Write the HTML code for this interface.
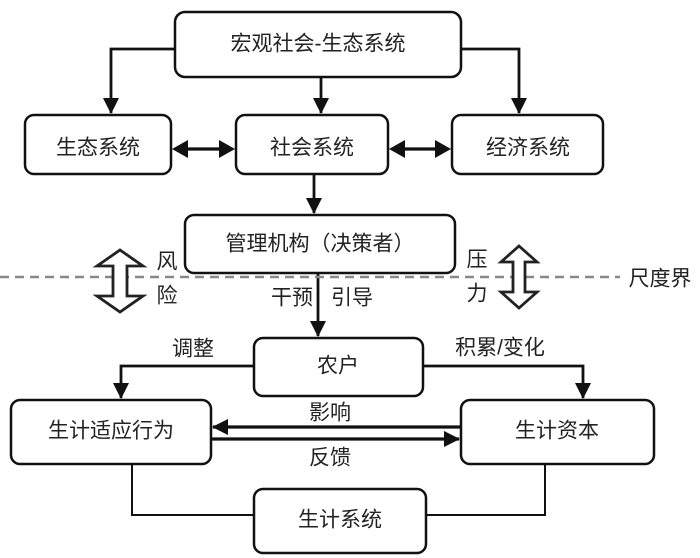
<!DOCTYPE html>
<html><head><meta charset="utf-8"><style>
html,body{margin:0;padding:0;background:#fff;width:700px;height:558px;overflow:hidden}
text{font-family:"Liberation Sans","Noto Sans CJK SC",sans-serif;font-size:21px;fill:#222;text-anchor:middle;dominant-baseline:central}
</style></head><body>
<svg width="700" height="558" viewBox="0 0 700 558" xmlns="http://www.w3.org/2000/svg">
<defs>
<marker id="b" markerWidth="16" markerHeight="16" refX="15" refY="8" orient="auto" markerUnits="userSpaceOnUse"><path d="M0,0 L16,8 L0,16z" fill="#111"/></marker>
</defs>
<g fill="#fff" stroke="#111" stroke-width="2.5">
<rect x="175" y="12" width="286" height="65" rx="10"/>
<rect x="25" y="115" width="146" height="59" rx="9"/>
<rect x="236" y="115" width="152" height="59" rx="9"/>
<rect x="452" y="115" width="151" height="59" rx="9"/>
<rect x="185" y="215" width="270" height="58" rx="9"/>
<rect x="254" y="338" width="169" height="58" rx="9"/>
<rect x="11" y="400" width="200" height="64" rx="9"/>
<rect x="461" y="400" width="193" height="64" rx="9"/>
<rect x="254" y="489" width="172" height="64" rx="9"/>
</g>
<g stroke="#111" stroke-width="2.8" fill="none">
<path d="M175 49 H111 V113" marker-end="url(#b)"/>
<path d="M461 49 H519 V113" marker-end="url(#b)"/>
<path d="M321 77 V113" marker-end="url(#b)"/>
<path d="M314 174 V213" marker-end="url(#b)"/>
<path d="M318 273 V336" marker-end="url(#b)"/>
<path d="M254 366 H121 V398" marker-end="url(#b)"/>
<path d="M423 366 H583 V398" marker-end="url(#b)"/>
<path d="M461 427 H213" marker-end="url(#b)" stroke-width="3.2"/>
<path d="M211 439 H459" marker-end="url(#b)" stroke-width="3.2"/>
<path d="M132 464 V515 H254" stroke-width="2"/>
<path d="M545 464 V515 H426" stroke-width="2"/>
</g>
<g fill="#111">
<path d="M172 149 L188 140 L188 158z"/><path d="M235 149 L219 140 L219 158z"/>
<path d="M389 149 L405 140 L405 158z"/><path d="M451 149 L435 140 L435 158z"/>
</g>
<path d="M186 149 H221 M404 149 H436" stroke="#111" stroke-width="3.2"/>
<line x1="0" y1="277" x2="620" y2="277" stroke="#888" stroke-width="2.5" stroke-dasharray="9,6"/>
<g fill="#fff" stroke="#222" stroke-width="2.8">
<path d="M120 250 L143 266 L127 266 L127 296 L143 296 L120 312 L97 296 L113 296 L113 266 L97 266z"/>
<path d="M519 246 L537 262 L525 262 L525 292 L537 292 L519 308 L501 292 L513 292 L513 262 L501 262z"/>
</g>
<text x="318" y="44">宏观社会-生态系统</text>
<text x="98" y="148">生态系统</text>
<text x="312" y="148">社会系统</text>
<text x="528" y="148">经济系统</text>
<text x="320" y="244">管理机构（决策者）</text>
<text x="167" y="262">风</text><text x="167" y="296">险</text>
<text x="477" y="260">压</text><text x="477" y="294">力</text>
<text x="660" y="279">尺度界</text>
<text x="292" y="298">干预</text><text x="352" y="298">引导</text>
<text x="193" y="349">调整</text><text x="500" y="348">积累/变化</text>
<text x="338" y="366">农户</text>
<text x="111" y="431">生计适应行为</text>
<text x="557" y="431">生计资本</text>
<text x="330" y="413">影响</text><text x="330" y="458">反馈</text>
<text x="340" y="520">生计系统</text>
</svg>
</body></html>
